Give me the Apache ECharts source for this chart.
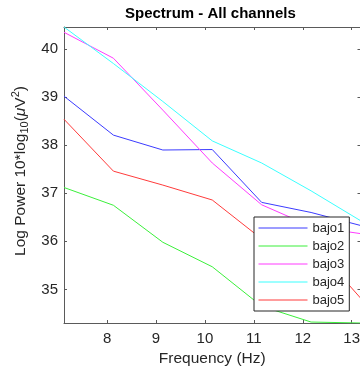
<!DOCTYPE html>
<html>
<head>
<meta charset="utf-8">
<script src="https://cdn.jsdelivr.net/npm/echarts@6/dist/echarts.min.js"></script>
<style>
html,body{margin:0;padding:0;background:#fff;}
#c{width:360px;height:374px;}
</style>
</head>
<body>
<div id="c"></div>
<script>
const freq = [7.12, 8.13, 9.14, 10.15, 11.16, 12.17, 13.18];
const bajo1 = [39.02, 38.21, 37.90, 37.91, 36.81, 36.60, 36.33];
const bajo2 = [37.12, 36.75, 35.98, 35.47, 34.65, 34.32, 34.30];
const bajo3 = [40.35, 39.81, 38.73, 37.63, 36.76, 36.31, 36.16];
const bajo4 = [40.46, 39.70, 38.91, 38.09, 37.63, 37.05, 36.43];
const bajo5 = [38.54, 37.46, 37.17, 36.86, 36.05, 35.98, 34.82];
const seriesNames = ['bajo1', 'bajo2', 'bajo3', 'bajo4', 'bajo5'];
const seriesColors = ['#3b3bff', '#3bef3b', '#ff3bff', '#3bffff', '#ff3b3b'];
const xTicks = [8, 9, 10, 11, 12, 13];
const yTicks = [35, 36, 37, 38, 39, 40];
const xMin = 7.12, xMax = 13.18, yMin = 34.30, yMax = 40.46;

const allValues = [bajo1, bajo2, bajo3, bajo4, bajo5];
const FONT = '"Liberation Sans", Arial, Helvetica, sans-serif';
const AX = '#262626';
const LINE = '#5a5a5a';

const chart = echarts.init(document.getElementById('c'), null, {renderer: 'canvas'});

function xAxisCfg(pos, showLabels) {
  return {
    type: 'value', position: pos, min: xMin, max: xMax,
    splitLine: {show: false},
    axisLine: {show: true, onZero: false, lineStyle: {color: LINE, width: 1}},
    axisTick: {show: true, inside: true, length: 3, customValues: xTicks, lineStyle: {color: LINE}},
    axisLabel: {show: showLabels, customValues: xTicks, color: AX, fontSize: 15, fontFamily: FONT, margin: 8},
    name: showLabels ? 'Frequency (Hz)' : '',
    nameLocation: 'middle', nameGap: 27,
    nameTextStyle: {color: AX, fontSize: 15.5, fontFamily: FONT}
  };
}
function yAxisCfg(pos, showLabels) {
  return {
    type: 'value', position: pos, min: yMin, max: yMax,
    splitLine: {show: false},
    axisLine: {show: true, onZero: false, lineStyle: {color: LINE, width: 1}},
    axisTick: {show: true, inside: true, length: 3, customValues: yTicks, lineStyle: {color: LINE}},
    axisLabel: {show: showLabels, customValues: yTicks, color: AX, fontSize: 15, fontFamily: FONT, margin: 6},
    name: showLabels ? '{n|Log Power 10*log}{s|10}{n|(}{i|μ}{n|V}{p|2}{n|)}' : '',
    nameLocation: 'middle', nameGap: 31, nameRotate: 90,
    nameTextStyle: {
      color: AX, fontFamily: FONT, fontSize: 15.5,
      padding: [0, 0, 0, 8],
      rich: {
        n: {fontSize: 15.5, fontFamily: FONT, color: AX, lineHeight: 20},
        s: {fontSize: 11, fontFamily: FONT, color: AX, lineHeight: 12, verticalAlign: 'bottom'},
        i: {fontSize: 15.5, fontFamily: FONT, color: AX, fontStyle: 'italic', lineHeight: 20},
        p: {fontSize: 11, fontFamily: FONT, color: AX, lineHeight: 12, verticalAlign: 'top'}
      }
    }
  };
}

const option = {
  animation: false,
  backgroundColor: '#ffffff',
  title: {
    text: 'Spectrum - All channels',
    left: 125, top: 6, padding: 0,
    textStyle: {fontSize: 15, fontWeight: 'bold', color: '#000', fontFamily: FONT}
  },
  grid: {left: 64, right: -0.5, top: 27, bottom: 51, containLabel: false, outerBoundsMode: 'none'},
  xAxis: [xAxisCfg('bottom', true), xAxisCfg('top', false)],
  yAxis: [yAxisCfg('left', true), yAxisCfg('right', false)],
  legend: {
    orient: 'vertical', left: 254, top: 217,
    backgroundColor: '#fff', borderColor: AX, borderWidth: 1, borderRadius: 0,
    padding: [4, 5, 4, 4], itemGap: 4, itemWidth: 49, itemHeight: 14,
    itemStyle: {opacity: 0},
    lineStyle: {width: 1},
    textStyle: {fontSize: 13, fontFamily: FONT, color: AX, lineHeight: 14},
    data: seriesNames
  },
  series: seriesNames.map((nm, k) => ({
    name: nm, type: 'line', symbol: 'none', xAxisIndex: 0, yAxisIndex: 0,
    color: seriesColors[k],
    lineStyle: {width: 1, color: seriesColors[k]},
    data: freq.map((f, i) => [f, allValues[k][i]])
  }))
};
chart.setOption(option);
</script>
</body>
</html>
